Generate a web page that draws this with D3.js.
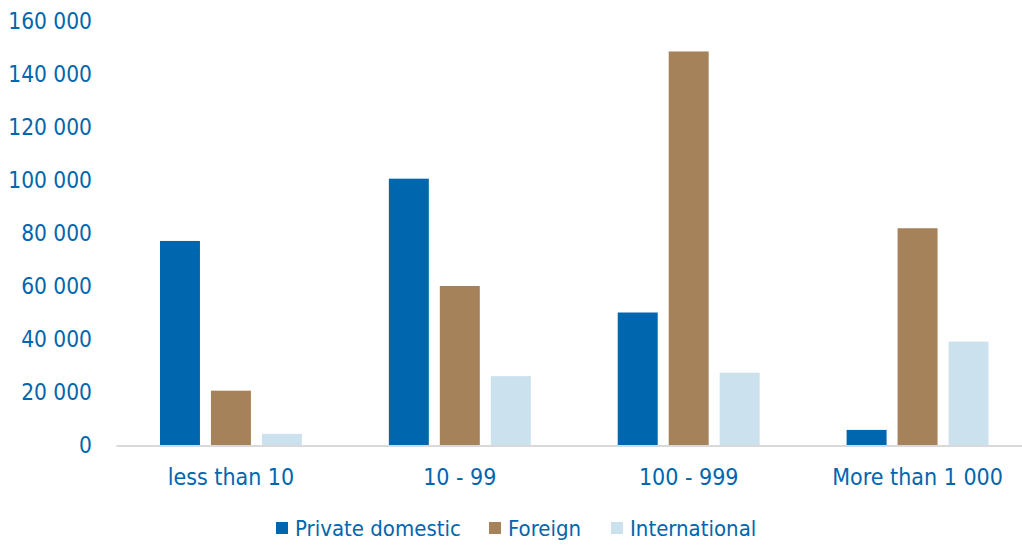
<!DOCTYPE html>
<html>
<head>
<meta charset="utf-8">
<script src="https://cdn.jsdelivr.net/npm/d3@7.9.0/dist/d3.min.js"></script>
<style>
  body { margin: 0; background: #fff; }
  svg text { font-family: "DejaVu Sans Condensed", "DejaVu Sans", sans-serif; fill: #0066ad; }
</style>
</head>
<body>
<svg id="chart" width="1022" height="545"></svg>
<script>
// --- data ---
const categories = ['less than 10', '10 - 99', '100 - 999', 'More than 1 000'];
const seriesNames = ['Private domestic', 'Foreign', 'International'];
const privateDomestic = [77000, 100500, 50000, 5700];
const foreign = [20500, 60000, 148500, 81800];
const international = [4200, 26000, 27300, 39000];
const yTicks = [0, 20000, 40000, 60000, 80000, 100000, 120000, 140000, 160000];

const colors = ['#0066ad', '#a5825a', '#cce1ee'];
const series = [privateDomestic, foreign, international];

const svg = d3.select('#chart');
const margin = { left: 116.5, right: -10, top: 21, bottom: 100 };
const W = 1022, H = 545;

// plot area runs a little past the right edge, like the original
const x = d3.scaleBand().domain(categories)
  .range([margin.left, W - margin.right]).paddingInner(0).paddingOuter(0);
const x1 = d3.scaleBand().domain(seriesNames)
  .range([0, x.bandwidth()]).paddingInner(0.2157).paddingOuter(0.853);
const y = d3.scaleLinear().domain([0, 160000]).range([445, 21]);

const fmt = v => d3.format(',')(v).replace(/,/g, ' ');

// y axis labels
svg.append('g').selectAll('text')
  .data(yTicks).join('text')
  .attr('x', 92).attr('y', d => y(d))
  .attr('dy', '0.36em')
  .attr('text-anchor', 'end')
  .style('font-size', '22.5px')
  .text(fmt);

// bars
const groups = svg.append('g').selectAll('g')
  .data(categories).join('g')
  .attr('transform', d => `translate(${x(d)},0)`);

groups.selectAll('rect')
  .data((c, i) => seriesNames.map((s, j) => ({ s, j, v: series[j][i] })))
  .join('rect')
  .attr('x', d => x1(d.s))
  .attr('width', x1.bandwidth())
  .attr('y', d => y(d.v))
  .attr('height', d => y(0) - y(d.v))
  .attr('fill', d => colors[d.j]);

// baseline
svg.append('line')
  .attr('x1', margin.left).attr('x2', W)
  .attr('y1', y(0) + 1).attr('y2', y(0) + 1)
  .attr('stroke', '#d9d9d9').attr('stroke-width', 2);

// category labels
svg.append('g').selectAll('text')
  .data(categories).join('text')
  .attr('x', d => x(d) + x.bandwidth() / 2)
  .attr('y', 485)
  .attr('text-anchor', 'middle')
  .style('font-size', '23px')
  .text(d => d);

// legend
const legendX = [276, 489, 611];
const legend = svg.append('g').selectAll('g')
  .data(seriesNames).join('g')
  .attr('transform', (d, i) => `translate(${legendX[i]},522)`);
legend.append('rect').attr('width', 12).attr('height', 12)
  .attr('fill', (d, i) => colors[i]);
legend.append('text').attr('x', 19).attr('y', 6).attr('dy', '0.36em')
  .style('font-size', '22px')
  .text(d => d);
</script>
</body>
</html>
